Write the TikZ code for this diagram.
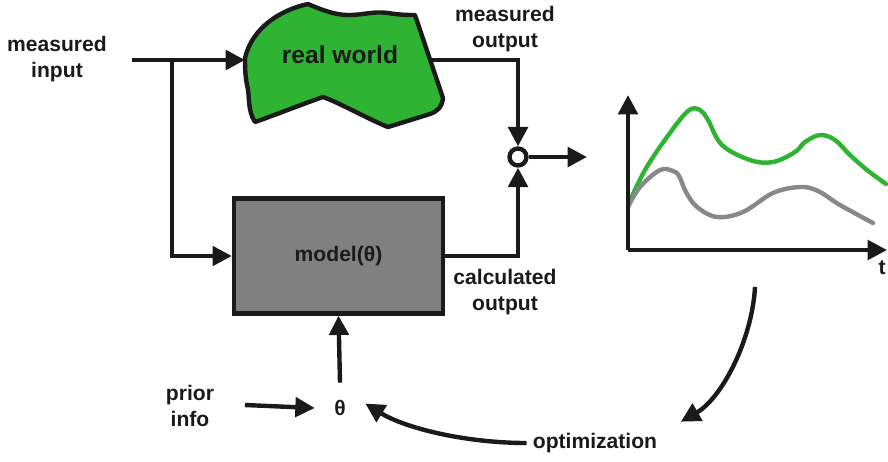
\documentclass[tikz,border=0pt]{standalone}
\usepackage{fontspec}
\setmainfont{Liberation Sans}
\usetikzlibrary{arrows.meta,positioning}

\definecolor{ink}{HTML}{1A1A1A}
\definecolor{rwgreen}{HTML}{2EB432}
\definecolor{boxgray}{HTML}{808080}
\definecolor{crvgray}{HTML}{888888}

\begin{document}
\begin{tikzpicture}[
        x=0.02cm, y=-0.02cm,
        lbl/.style={font=\fontsize{12}{15}\selectfont\bfseries, text=ink, align=center},
        arr/.style={draw=ink, line width=2.5pt, -{Triangle[length=11pt,width=11pt]}},
        box/.style={draw=ink, line width=2.5pt, fill=boxgray, minimum width=4.18cm, minimum height=2.3cm,
            font=\fontsize{12}{15}\selectfont\bfseries, text=ink},
        sum/.style={draw=ink, circle, line width=2.5pt, minimum size=0.34cm, inner sep=0pt, fill=white},
        crv/.style={line width=2.5pt, line cap=round}
    ]
    \useasboundingbox (0,0) rectangle (888,461);
    % real world
    \draw[draw=ink, fill=rwgreen, line width=2.5pt, line join=round] (245,58)
        .. controls (252,28) and (280,10) .. (308,4)
        .. controls (322,10) and (335,15) .. (348,15)
        .. controls (365,15) and (372,11) .. (388,13)
        .. controls (400,15) and (408,15) .. (415,15)
        -- (443,98)
        .. controls (442,108) and (436,112) .. (430,114)
        -- (388,127)
        .. controls (370,120) and (340,103) .. (323,97)
        .. controls (300,105) and (275,115) .. (255,122)
        .. controls (247,110) and (250,95) .. (247,85)
        .. controls (245,75) and (245,65) .. (245,58) -- cycle;
    \node[lbl, font=\fontsize{14}{16}\selectfont\bfseries] (rw) at (340,55) {real world};
    \coordinate (rwin) at (245,60);
    \coordinate (rwout) at (430,60);

    \node[lbl] (min) at (57,59) {measured\\input};
    \coordinate (inp) at (132,60);
    \coordinate (split) at (172,60);
    \node[box] (model) at (338.5,256) {model(θ)};
    \node[sum] (sum) at (518,157) {};
    \coordinate (sumout) at (587,157);
    \node[lbl] (mout) at (505,29) {measured\\output};
    \node[lbl] (cout) at (505,292) {calculated\\output};
    \node[lbl, minimum width=1cm, minimum height=1cm] (theta) at (340,408) {θ};
    \node[lbl] (prior) at (190,406) {prior\\info};
    \coordinate (pin) at (245,405);
    \node[lbl] (opt) at (595,443) {optimization};

    \draw[arr] (inp) -- (rwin);
    \draw[arr] (split) |- (model.west);
    \draw[arr] (rwout) -| (sum.north);
    \draw[arr] (model.east) -| (sum.south);
    \draw[arr] (sum.east) -- (sumout);
    \draw[arr] (theta.north) -- (model.south);
    \draw[arr] (pin) -- (theta.west);
    \draw[arr] (opt.west) .. controls (465,443) and (405,428) .. (theta.10);

    % plot
    \coordinate (O) at (628,250);
    \coordinate (yend) at (628,95);
    \coordinate (xend) at (887,250);
    \node[lbl] (t) at (882,268) {t};
    \draw[crv, rwgreen] plot[smooth, tension=0.6] coordinates {(628,205) (645,170) (667,137) (688,111) (700,110) (708,120) (722,145) (750,160) (773,162) (795,152) (805,142) (820,135) (835,140) (850,155) (867,170) (886,184)};
    \draw[crv, crvgray] plot[smooth, tension=0.6] coordinates {(628,207) (640,187) (660,170) (673,171) (679,176) (686,192) (697,207) (717,217) (743,212) (773,193) (800,187) (818,191) (840,205) (873,223)};
    \draw[arr] (O) -- (yend);
    \draw[arr] (O) -- (xend);
    \coordinate (gtail) at (755,287);
    \draw[arr] (gtail) .. controls (752,340) and (722,398) .. ([xshift=10pt,yshift=3pt]opt.north east);
\end{tikzpicture}
\end{document}
